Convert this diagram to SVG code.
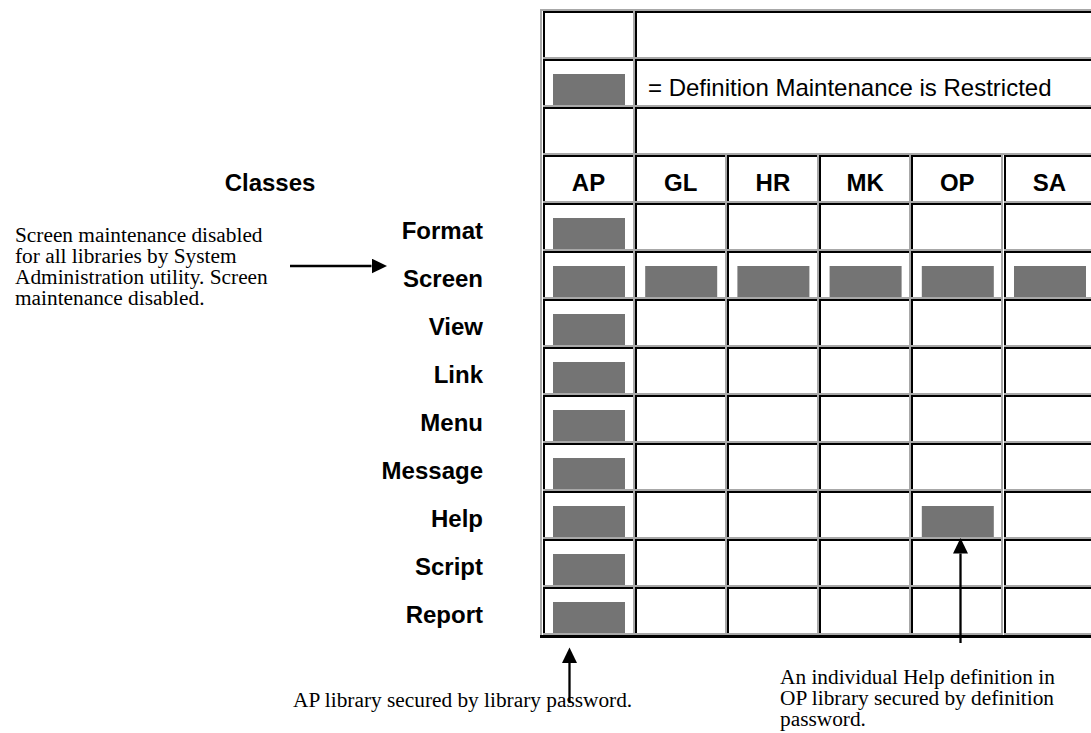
<svg xmlns="http://www.w3.org/2000/svg" xmlns:xlink="http://www.w3.org/1999/xlink" width="1091" height="733" viewBox="0 0 1091 733">
<style>
.hd{font-family:"Liberation Sans",Arial,sans-serif;font-weight:bold;font-size:24px;fill:#000}
.lb{font-family:"Liberation Sans",Arial,sans-serif;font-weight:bold;font-size:24px;fill:#000;text-anchor:end}
.ch{text-anchor:middle}
.lg{font-family:"Liberation Sans",Arial,sans-serif;font-size:24px;fill:#000}
.nt{font-family:"Liberation Serif","Times New Roman",serif;font-size:21.33px;fill:#000}
.box{fill:#747474}
.ln{stroke:#000;stroke-width:2.3;fill:none}
</style>
<defs>
<g id="cell" shape-rendering="crispEdges">
<rect x="0" y="0" width="92.2" height="48" fill="#a8a8a8"/>
<rect x="0" y="0" width="90.2" height="46" fill="#000"/>
<rect x="2" y="2" width="88.2" height="44" fill="#fff"/>
</g>
<g id="wide" shape-rendering="crispEdges">
<rect x="0" y="0" width="480" height="48" fill="#a8a8a8"/>
<rect x="0" y="0" width="478" height="46" fill="#000"/>
<rect x="2" y="2" width="476" height="44" fill="#fff"/>
</g>
<marker id="ah" markerUnits="userSpaceOnUse" markerWidth="16" markerHeight="15" refX="0" refY="7.5" orient="auto">
<path d="M0,0 L15.5,7.5 L0,15 z" fill="#000"/>
</marker>
</defs>
<rect width="1091" height="733" fill="#fff"/>

<g id="table-frame" shape-rendering="crispEdges">
<rect x="540" y="9" width="560" height="2" fill="#a8a8a8"/>
<rect x="540" y="9" width="2" height="628" fill="#a8a8a8"/>
<rect x="540" y="635" width="560" height="2.5" fill="#000"/>
</g>

<g id="row-blank1">
<use xlink:href="#cell" x="542.5" y="11"/>
<use xlink:href="#wide" x="634.7" y="11"/>
</g>
<g id="row-legend">
<use xlink:href="#cell" x="542.5" y="59"/>
<use xlink:href="#wide" x="634.7" y="59"/>
<rect class="box" x="553" y="74" width="72" height="31"/>
<text class="lg" x="648" y="96">= Definition Maintenance is Restricted</text>
</g>
<g id="row-blank2">
<use xlink:href="#cell" x="542.5" y="107"/>
<use xlink:href="#wide" x="634.7" y="107"/>
</g>

<g id="row-header">
<use xlink:href="#cell" x="542.5" y="155"/>
<use xlink:href="#cell" x="634.7" y="155"/>
<use xlink:href="#cell" x="726.9" y="155"/>
<use xlink:href="#cell" x="819.1" y="155"/>
<use xlink:href="#cell" x="911.3" y="155"/>
<use xlink:href="#cell" x="1003.5" y="155"/>
<text class="hd ch" x="270" y="191">Classes</text>
<text class="hd ch" x="588.5" y="191">AP</text>
<text class="hd ch" x="680.7" y="191">GL</text>
<text class="hd ch" x="772.9" y="191">HR</text>
<text class="hd ch" x="865.1" y="191">MK</text>
<text class="hd ch" x="957.3" y="191">OP</text>
<text class="hd ch" x="1049.5" y="191">SA</text>
</g>

<g id="row-format">
<use xlink:href="#cell" x="542.5" y="203"/><use xlink:href="#cell" x="634.7" y="203"/><use xlink:href="#cell" x="726.9" y="203"/><use xlink:href="#cell" x="819.1" y="203"/><use xlink:href="#cell" x="911.3" y="203"/><use xlink:href="#cell" x="1003.5" y="203"/>
<rect class="box" x="553" y="218" width="72" height="31"/>
<text class="lb" x="483" y="239">Format</text>
</g>
<g id="row-screen">
<use xlink:href="#cell" x="542.5" y="251"/><use xlink:href="#cell" x="634.7" y="251"/><use xlink:href="#cell" x="726.9" y="251"/><use xlink:href="#cell" x="819.1" y="251"/><use xlink:href="#cell" x="911.3" y="251"/><use xlink:href="#cell" x="1003.5" y="251"/>
<rect class="box" x="553" y="266" width="72" height="31"/>
<rect class="box" x="645.2" y="266" width="72" height="31"/>
<rect class="box" x="737.4" y="266" width="72" height="31"/>
<rect class="box" x="829.6" y="266" width="72" height="31"/>
<rect class="box" x="921.8" y="266" width="72" height="31"/>
<rect class="box" x="1014" y="266" width="72" height="31"/>
<text class="lb" x="483" y="287">Screen</text>
</g>
<g id="row-view">
<use xlink:href="#cell" x="542.5" y="299"/><use xlink:href="#cell" x="634.7" y="299"/><use xlink:href="#cell" x="726.9" y="299"/><use xlink:href="#cell" x="819.1" y="299"/><use xlink:href="#cell" x="911.3" y="299"/><use xlink:href="#cell" x="1003.5" y="299"/>
<rect class="box" x="553" y="314" width="72" height="31"/>
<text class="lb" x="483" y="335">View</text>
</g>
<g id="row-link">
<use xlink:href="#cell" x="542.5" y="347"/><use xlink:href="#cell" x="634.7" y="347"/><use xlink:href="#cell" x="726.9" y="347"/><use xlink:href="#cell" x="819.1" y="347"/><use xlink:href="#cell" x="911.3" y="347"/><use xlink:href="#cell" x="1003.5" y="347"/>
<rect class="box" x="553" y="362" width="72" height="31"/>
<text class="lb" x="483" y="383">Link</text>
</g>
<g id="row-menu">
<use xlink:href="#cell" x="542.5" y="395"/><use xlink:href="#cell" x="634.7" y="395"/><use xlink:href="#cell" x="726.9" y="395"/><use xlink:href="#cell" x="819.1" y="395"/><use xlink:href="#cell" x="911.3" y="395"/><use xlink:href="#cell" x="1003.5" y="395"/>
<rect class="box" x="553" y="410" width="72" height="31"/>
<text class="lb" x="483" y="431">Menu</text>
</g>
<g id="row-message">
<use xlink:href="#cell" x="542.5" y="443"/><use xlink:href="#cell" x="634.7" y="443"/><use xlink:href="#cell" x="726.9" y="443"/><use xlink:href="#cell" x="819.1" y="443"/><use xlink:href="#cell" x="911.3" y="443"/><use xlink:href="#cell" x="1003.5" y="443"/>
<rect class="box" x="553" y="458" width="72" height="31"/>
<text class="lb" x="483" y="479">Message</text>
</g>
<g id="row-help">
<use xlink:href="#cell" x="542.5" y="491"/><use xlink:href="#cell" x="634.7" y="491"/><use xlink:href="#cell" x="726.9" y="491"/><use xlink:href="#cell" x="819.1" y="491"/><use xlink:href="#cell" x="911.3" y="491"/><use xlink:href="#cell" x="1003.5" y="491"/>
<rect class="box" x="553" y="506" width="72" height="31"/>
<rect class="box" x="921.8" y="506" width="72" height="31"/>
<text class="lb" x="483" y="527">Help</text>
</g>
<g id="row-script">
<use xlink:href="#cell" x="542.5" y="539"/><use xlink:href="#cell" x="634.7" y="539"/><use xlink:href="#cell" x="726.9" y="539"/><use xlink:href="#cell" x="819.1" y="539"/><use xlink:href="#cell" x="911.3" y="539"/><use xlink:href="#cell" x="1003.5" y="539"/>
<rect class="box" x="553" y="554" width="72" height="31"/>
<text class="lb" x="483" y="575">Script</text>
</g>
<g id="row-report">
<use xlink:href="#cell" x="542.5" y="587"/><use xlink:href="#cell" x="634.7" y="587"/><use xlink:href="#cell" x="726.9" y="587"/><use xlink:href="#cell" x="819.1" y="587"/><use xlink:href="#cell" x="911.3" y="587"/><use xlink:href="#cell" x="1003.5" y="587"/>
<rect class="box" x="553" y="602" width="72" height="31"/>
<text class="lb" x="483" y="623">Report</text>
</g>

<g id="note-screen">
<text class="nt" x="15" y="242">Screen maintenance disabled</text>
<text class="nt" x="15" y="263">for all libraries by System</text>
<text class="nt" x="15" y="284">Administration utility. Screen</text>
<text class="nt" x="15" y="305">maintenance disabled.</text>
</g>
<g id="note-ap">
<text class="nt" x="293" y="707">AP library secured by library password.</text>
</g>
<g id="note-op">
<text class="nt" x="780" y="684">An individual Help definition in</text>
<text class="nt" x="780" y="705">OP library secured by definition</text>
<text class="nt" x="780" y="726">password.</text>
</g>

<g id="connectors">
<line class="ln" x1="290" y1="266" x2="371.5" y2="266" marker-end="url(#ah)"/>
<line class="ln" x1="569.5" y1="703" x2="569.5" y2="663" marker-end="url(#ah)"/>
<line class="ln" x1="960.5" y1="643" x2="960.5" y2="553.5" marker-end="url(#ah)"/>
</g>
</svg>
